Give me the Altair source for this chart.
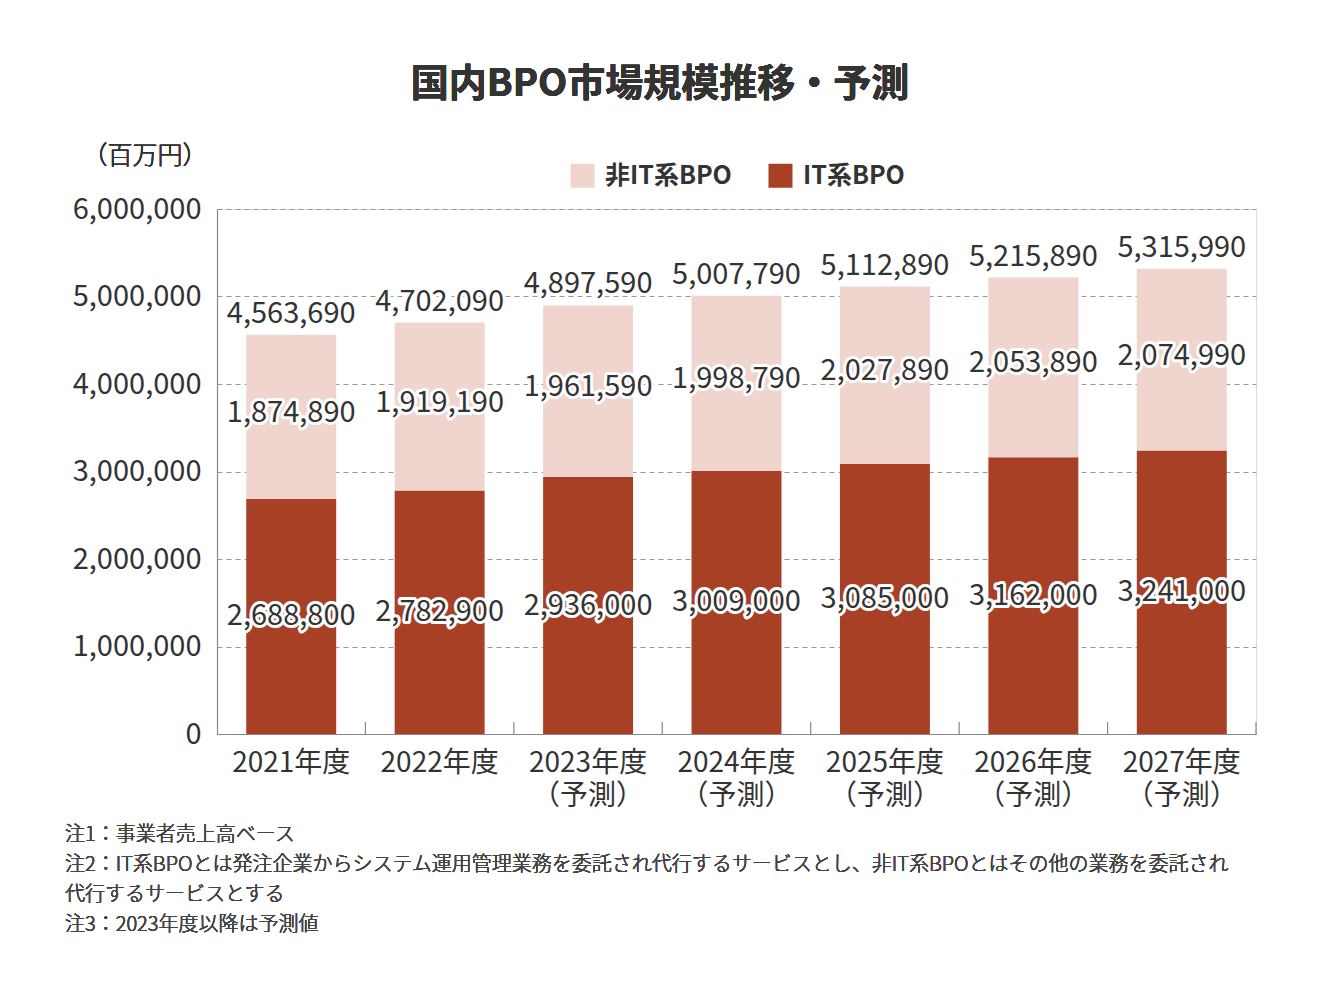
import altair as alt
import pandas as pd

FONT = "Noto Sans CJK JP"

years = ["2021年度", "2022年度", "2023年度|（予測）", "2024年度|（予測）",
         "2025年度|（予測）", "2026年度|（予測）", "2027年度|（予測）"]
it_values = [2688800, 2782900, 2936000, 3009000, 3085000, 3162000, 3241000]
nonit_values = [1874890, 1919190, 1961590, 1998790, 2027890, 2053890, 2074990]
totals = [4563690, 4702090, 4897590, 5007790, 5112890, 5215890, 5315990]
series = ["非IT系BPO", "IT系BPO"]
colors = ["#F0D5CF", "#A84026"]
y_ticks = [0, 1000000, 2000000, 3000000, 4000000, 5000000, 6000000]

title_text = "国内BPO市場規模推移・予測"
unit_text = "（百万円）"
notes = [
    "注1：事業者売上高ベース",
    "注2：IT系BPOとは発注企業からシステム運用管理業務を委託され代行するサービスとし、非IT系BPOとはその他の業務を委託され",
    "代行するサービスとする",
    "注3：2023年度以降は予測値",
]

W, H = 1039, 525
STEP = W / len(years)

rows = []
for y, a, b in zip(years, it_values, nonit_values):
    rows.append({"year": y, "series": "IT系BPO", "value": a, "ord": 0})
    rows.append({"year": y, "series": "非IT系BPO", "value": b, "ord": 1})
df = pd.DataFrame(rows)

lab = pd.DataFrame({"year": years, "it": it_values, "nonit": nonit_values, "total": totals})

xenc = alt.X("year:N", sort=years,
             scale=alt.Scale(paddingInner=0.394, paddingOuter=0.197),
             axis=alt.Axis(title=None, labelAngle=0, labelExpr="split(datum.label, '|')",
                           labelFontSize=28, labelColor="#333", labelPadding=15,
                           labelLineHeight=33, ticks=False, domainColor="#888",
                           domainWidth=1.2, labelFont=FONT, labelFontWeight="normal"))
yscale = alt.Scale(domain=[0, 6000000], nice=False)

bars = alt.Chart(df).mark_bar().encode(
    x=xenc,
    y=alt.Y("value:Q", stack="zero", scale=yscale,
            axis=alt.Axis(title=None, values=y_ticks, format=",d", labelFontSize=29,
                          labelColor="#333", labelPadding=16, ticks=False,
                          domainColor="#888", domainWidth=1.2, gridColor="#999",
                          gridDash=[5, 4], gridWidth=1, labelFont=FONT,
                          labelFontWeight="normal")),
    color=alt.Color("series:N", scale=alt.Scale(domain=series, range=colors),
                    legend=alt.Legend(title=None, orient="none", legendX=353, legendY=-46,
                                      direction="horizontal", columns=2, columnPadding=36,
                                      symbolType="square", symbolSize=576,
                                      symbolStrokeWidth=0, labelFontSize=25,
                                      labelFontWeight="bold", labelColor="#333",
                                      labelFont=FONT, labelOffset=10)),
    order=alt.Order("ord:Q"),
)

ticks = alt.Chart(lab).mark_rule(color="#888", xOffset=STEP / 2, strokeWidth=1.2).encode(
    x=alt.X("year:N", sort=years),
    y=alt.value(H - 12), y2=alt.value(H),
)

base = alt.Chart(lab).transform_calculate(
    it_mid="datum.it / 2",
    nonit_mid="datum.it + datum.nonit / 2",
)

def label_layers(ycol, tcol, baseline, dy):
    common = dict(fontSize=29, font=FONT, fontWeight="normal", baseline=baseline,
                  dy=dy, align="center")
    enc = dict(x=alt.X("year:N", sort=years), y=alt.Y(f"{ycol}:Q", scale=yscale),
               text=alt.Text(f"{tcol}:Q", format=",d"))
    halo = base.mark_text(stroke="white", strokeWidth=6, strokeJoin="round",
                          fill="white", **common).encode(**enc)
    txt = base.mark_text(color="#333", **common).encode(**enc)
    return [halo, txt]

labels = (label_layers("it_mid", "it", "middle", 0)
          + label_layers("nonit_mid", "nonit", "middle", -4)
          + label_layers("total", "total", "alphabetic", -12))

title = alt.Chart(lab).mark_text(text=title_text, fontSize=38, fontWeight="bold",
                                 font=FONT, color="#333", align="center",
                                 baseline="middle").encode(
    x=alt.value(660 - 217), y=alt.value(85 - 209))
unit = alt.Chart(lab).mark_text(text=unit_text, fontSize=25, font=FONT, color="#333",
                                fontWeight=300, align="center",
                                baseline="middle").encode(
    x=alt.value(145 - 217), y=alt.value(156 - 209))
note = alt.Chart(lab).mark_text(text=notes, fontSize=20, font=FONT, color="#444",
                                fontWeight=300, align="left", baseline="alphabetic",
                                lineHeight=30).encode(
    x=alt.value(65 - 217), y=alt.value(841 - 209))

chart = alt.layer(bars, ticks, *labels, title, unit, note).properties(
    width=W, height=H,
    autosize=alt.AutoSizeParams(type="none"),
    padding={"left": 209, "top": 201, "right": 50, "bottom": 250},
).configure_view(stroke=None).configure(font=FONT)

chart.save("out.html", embed_options={"renderer": "svg", "actions": False})
